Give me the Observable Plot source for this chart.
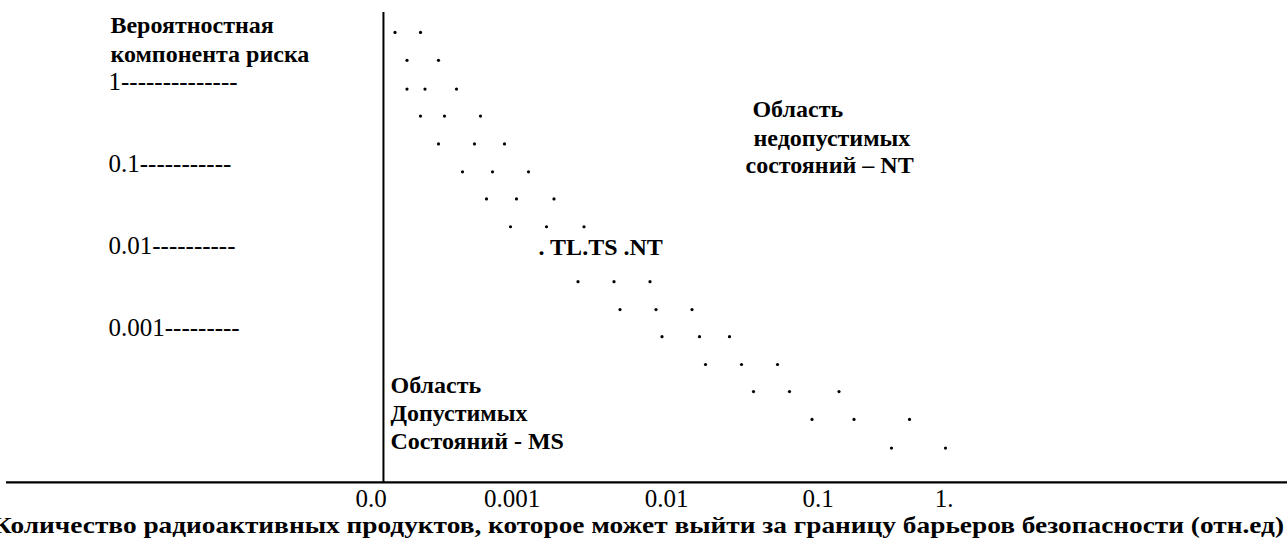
<!DOCTYPE html>
<html>
<head>
<meta charset="utf-8">
<script src="https://cdn.jsdelivr.net/npm/d3@7"></script>
<script src="https://cdn.jsdelivr.net/npm/@observablehq/plot@0.6"></script>
<style>
  html, body { margin: 0; padding: 0; background: #fff; }
  #chart svg { display: block; }
</style>
</head>
<body>
<div id="chart"></div>
<script>
// ---- Data (x: log10 of released amount, y: log10 of probability) ----
const rowLevels = [0.61, 0.27, -0.08, -0.41, -0.75, -1.09, -1.42, -1.76,
                   -2.43, -2.77, -3.10, -3.44, -3.77, -4.11, -4.46];
const rowPoints = [
  [-3.77, -3.60],
  [-3.69, -3.48],
  [-3.69, -3.57, -3.36],
  [-3.60, -3.44, -3.20],
  [-3.48, -3.24, -3.04],
  [-3.32, -3.12, -2.88],
  [-3.16, -2.96, -2.71],
  [-3.00, -2.76, -2.51],
  [-2.55, -2.31, -2.07],
  [-2.27, -2.03, -1.79],
  [-1.99, -1.74, -1.54],
  [-1.70, -1.46, -1.22],
  [-1.38, -1.14, -0.81],
  [-0.99, -0.71, -0.34],
  [-0.46, -0.10]
];
const yTickValues = [0, -1, -2, -3];
const yTickLabels = ["1--------------", "0.1-----------", "0.01----------", "0.001---------"];
const xTickValues = [-3.93, -2.99, -1.96, -0.95, -0.11];
const xTickLabels = ["0.0", "0.001", "0.01", "0.1", "1."];
const yTitleLines = ["Вероятностная", "компонента риска"];
const ntLines = ["Область", "недопустимых", "состояний – NT"];
const msLines = ["Область", "Допустимых", "Состояний - MS"];
const bandLabel = ". TL.TS .NT";
const xTitle = "Количество радиоактивных продуктов, которое может выйти за границу барьеров безопасности (отн.ед)";

// ---- Build tables ----
const dots = rowPoints.flatMap((xs, i) => xs.map(x => ({x, y: rowLevels[i]})));
const yTicks = yTickValues.map((v, i) => ({y: v, label: yTickLabels[i]}));
const xTicks = xTickValues.map((v, i) => ({x: v, label: xTickLabels[i]}));

const serif = "'Liberation Serif', 'Times New Roman', serif";
const common = {fontFamily: serif, fill: "black"};

const chart = Plot.plot({
  width: 1287,
  height: 546,
  margin: 0,
  x: {domain: [-6.4, 2.18], axis: null},
  y: {domain: [-5.66, 1.0], axis: null},
  style: {background: "white"},
  marks: [
    // axes lines
    Plot.ruleX([-3.847], {y1: 0.854, y2: -4.878, stroke: "black", strokeWidth: 2}),
    Plot.ruleY([-4.878], {x1: -6.36, x2: 2.18, stroke: "black", strokeWidth: 2.3}),
    // dots band
    Plot.dot(dots, {x: "x", y: "y", r: 1.6, fill: "black", stroke: null}),
    // y title
    Plot.text(yTitleLines, {x: -5.667, y: (d, i) => [0.695, 0.341][i], text: d => d,
      textAnchor: "start", fontSize: 24, fontWeight: "bold", ...common}),
    // y tick labels
    Plot.text(yTicks, {x: -5.68, y: "y", text: "label", textAnchor: "start", fontSize: 25, ...common}),
    // x tick labels
    Plot.text(xTicks, {x: "x", y: -5.085, text: "label", textAnchor: "middle", fontSize: 25, ...common}),
    // NT region label
    Plot.text(ntLines, {x: (d, i) => [-1.387, -1.38, -1.433][i], y: (d, i) => [-0.329, -0.677, -1.012][i],
      text: d => d, textAnchor: "start", fontSize: 24, fontWeight: "bold", ...common}),
    // MS region label
    Plot.text(msLines, {x: -3.8, y: (d, i) => [-3.695, -4.037, -4.378][i],
      text: d => d, textAnchor: "start", fontSize: 24, fontWeight: "bold", ...common}),
    // band label
    Plot.text([bandLabel], {x: -2.813, y: -2.012, text: d => d, textAnchor: "start",
      fontSize: 24, fontWeight: "bold", ...common}),
    // x title
    Plot.text([xTitle], {x: -2.15, y: -5.402, text: d => d, textAnchor: "middle",
      fontSize: 24, fontWeight: "bold", className: "xtitle", ...common})
  ]
});
document.getElementById("chart").appendChild(chart);
// The reference's axis title is set horizontally wider than the font's natural width
d3.select(chart).selectAll(".xtitle text")
  .attr("textLength", 1292)
  .attr("lengthAdjust", "spacingAndGlyphs");
</script>
</body>
</html>
